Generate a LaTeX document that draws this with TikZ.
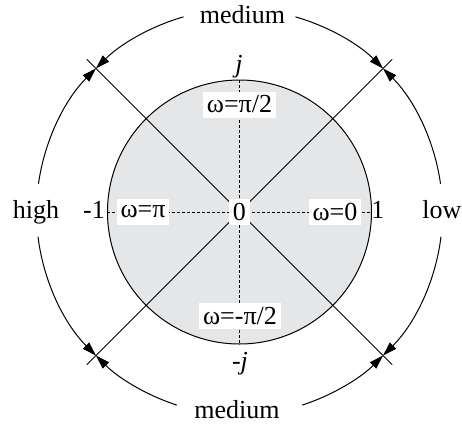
\documentclass[tikz,border=0pt]{standalone}
\usepackage{fontspec}
\setmainfont{Liberation Serif}
\usetikzlibrary{arrows.meta}
\definecolor{diskgray}{RGB}{229,230,232}
\begin{document}
\begin{tikzpicture}[x=0.5pt,y=0.5pt,
  every node/.style={font=\fontsize{13}{15}\selectfont, inner sep=0pt},
  thinline/.style={line width=0.5pt, black},
  dashline/.style={line width=0.5pt, black, dash pattern=on 1.5pt off 1pt},
  arr/.style={thinline, -{Triangle[length=7pt,width=4.4pt]}},
  boxlab/.style={fill=white, inner xsep=2pt, minimum height=13pt},
  plain/.style={anchor=base}]
\useasboundingbox (-239.5,-213) rectangle (222.5,212);
% disk
\node[circle, draw, line width=0.5pt, fill=diskgray, minimum size=132pt, inner sep=0pt] (disk) at (0,0) {};
\coordinate (O) at (0,0);
\coordinate (L) at (-132,0);
\coordinate (R) at (132,0);
\coordinate (T) at (0,132);
\coordinate (B) at (0,-132);
\draw[dashline] (L) -- (R);
\draw[dashline] (T) -- (B);
% diagonals
\coordinate (d1) at (45:216);
\coordinate (d2) at (135:216);
\coordinate (d3) at (225:216);
\coordinate (d4) at (315:216);
\draw[thinline] (O) -- (d1);
\draw[thinline] (O) -- (d2);
\draw[thinline] (O) -- (d3);
\draw[thinline] (O) -- (d4);
% arcs
\coordinate (a1) at (106:203);
\coordinate (a2) at (74:203);
\coordinate (a3) at (172:203);
\coordinate (a4) at (187:203);
\coordinate (a5) at (8:203);
\coordinate (a6) at (-7:203);
\coordinate (a7) at (252:203);
\coordinate (a8) at (288:203);
\draw[arr] (a1) arc[start angle=106, end angle=135, radius=203];
\draw[arr] (a2) arc[start angle=74, end angle=45, radius=203];
\draw[arr] (a3) arc[start angle=172, end angle=135, radius=203];
\draw[arr] (a4) arc[start angle=187, end angle=225, radius=203];
\draw[arr] (a5) arc[start angle=8, end angle=45, radius=203];
\draw[arr] (a6) arc[start angle=-7, end angle=-45, radius=203];
\draw[arr] (a7) arc[start angle=252, end angle=225, radius=203];
\draw[arr] (a8) arc[start angle=288, end angle=315, radius=203];
% boxed labels
\node[boxlab] (zero) at (0,0) {0};
\node[boxlab] (wpi2) at (0,107.5) {ω=π/2};
\node[boxlab] (wmpi2) at (0.5,-104) {ω=-π/2};
\node[boxlab] (wpi) at (-96.5,0) {ω=π};
\node[boxlab] (w0) at (95.5,0) {ω=0};
% plain labels
\node[plain] (medtop) at (3,189) {medium};
\node[plain] (medbot) at (-2.5,-206) {medium};
\node[plain] (high) at (-203.5,-6) {high};
\node[plain] (low) at (202.5,-6) {low};
\node[plain] (m1) at (-145.5,-6) {-1};
\node[plain] (p1) at (138.5,-6) {1};
\node[plain] (j) at (-0.5,140) {\itshape j};
\node[plain] (mj) at (0.5,-157) {-\itshape j};
\end{tikzpicture}
\end{document}
